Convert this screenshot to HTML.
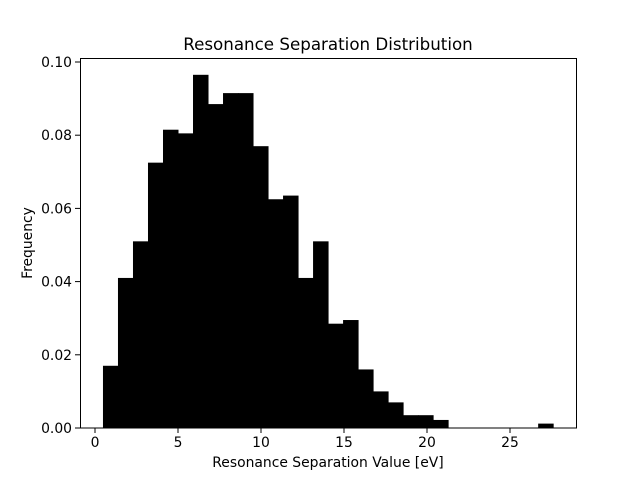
<!DOCTYPE html>
<html><head><meta charset="utf-8"><style>
body{margin:0;background:#fff}
svg text{font-family:"DejaVu Sans","Liberation Sans",sans-serif;fill:#000}
</style></head><body>
<svg id="chart" width="640" height="480" viewBox="0 0 640 480" xmlns="http://www.w3.org/2000/svg">
<rect width="640" height="480" fill="#fff"/>
<text x="328" y="50" font-size="16.7" text-anchor="middle">Resonance Separation Distribution</text>
<text x="328" y="467" font-size="13.9" text-anchor="middle">Resonance Separation Value [eV]</text>
<text transform="translate(32,243) rotate(-90)" font-size="13.9" text-anchor="middle">Frequency</text>
<g id="bars"></g><g id="ticks"></g>
<rect x="80.5" y="58.5" width="496" height="369.5" fill="none" stroke="#000" stroke-width="1"/>
</svg>
<script>
const binStart = 0.48;
const binWidth = 0.904;
const frequencies = [0.017,0.041,0.051,0.0725,0.0815,0.0805,0.0965,0.0885,0.0915,0.0915,0.077,0.0625,0.0635,0.041,0.051,0.0285,0.0295,0.016,0.010,0.007,0.0035,0.0035,0.0022,0,0,0,0,0,0,0.0012];
const xTicks = [0,5,10,15,20,25];
const yTicks = [0,0.02,0.04,0.06,0.08,0.10];
const yTickLabels = ["0.00","0.02","0.04","0.06","0.08","0.10"];

const NS="http://www.w3.org/2000/svg";
function xs(v){return 95+v*16.6;}
function ys(v){return 428-v*3660;}
const bars=document.getElementById('bars'), ticks=document.getElementById('ticks');
frequencies.forEach((f,i)=>{
  if(f<=0) return;
  const x0=xs(binStart+i*binWidth), x1=xs(binStart+(i+1)*binWidth);
  const r=document.createElementNS(NS,'rect');
  r.setAttribute('x',x0);r.setAttribute('width',x1-x0+0.5);
  r.setAttribute('y',ys(f));r.setAttribute('height',428-ys(f));
  r.setAttribute('fill','#000');
  
  
  bars.appendChild(r);
});
xTicks.forEach(t=>{
  const x=xs(t);
  const l=document.createElementNS(NS,'line');
  l.setAttribute('x1',x);l.setAttribute('x2',x);l.setAttribute('y1',428);l.setAttribute('y2',433);l.setAttribute('stroke','#000');
  
  
  ticks.appendChild(l);
  const tx=document.createElementNS(NS,'text');
  tx.setAttribute('x',x);tx.setAttribute('y',447);tx.setAttribute('font-size','13.9');tx.setAttribute('text-anchor','middle');
  tx.textContent=t;
  
  
  ticks.appendChild(tx);
});
yTicks.forEach((t,i)=>{
  const y=ys(t);
  const l=document.createElementNS(NS,'line');
  l.setAttribute('x1',75);l.setAttribute('x2',80);l.setAttribute('y1',y);l.setAttribute('y2',y);l.setAttribute('stroke','#000');
  
  
  ticks.appendChild(l);
  const tx=document.createElementNS(NS,'text');
  tx.setAttribute('x',72);tx.setAttribute('y',y+5);tx.setAttribute('font-size','13.9');tx.setAttribute('text-anchor','end');
  tx.textContent=yTickLabels[i];
  
  
  ticks.appendChild(tx);
});
</script>
</body></html>
